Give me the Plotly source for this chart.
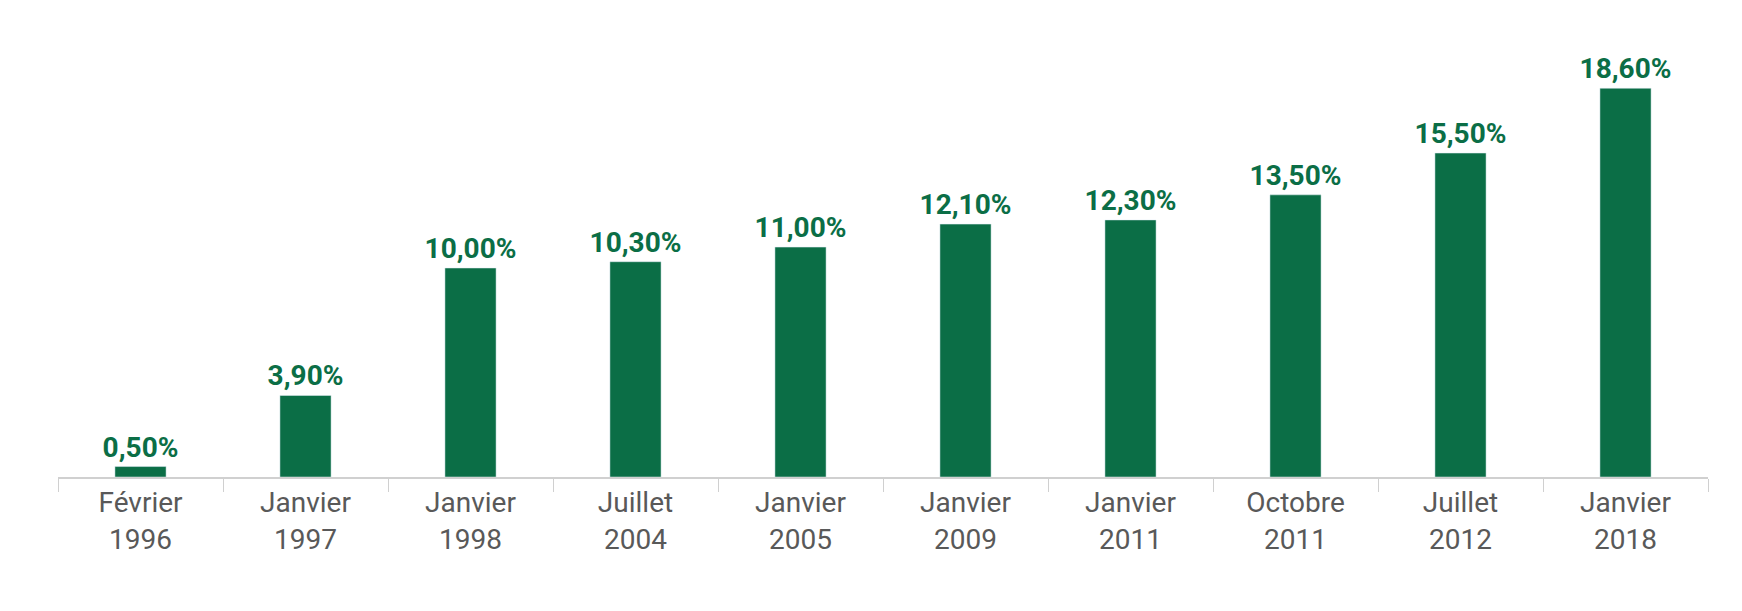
import plotly.graph_objects as go

dates = ["Février<br>1996", "Janvier<br>1997", "Janvier<br>1998", "Juillet<br>2004",
         "Janvier<br>2005", "Janvier<br>2009", "Janvier<br>2011", "Octobre<br>2011",
         "Juillet<br>2012", "Janvier<br>2018"]
rates = [0.5, 3.9, 10.0, 10.3, 11.0, 12.1, 12.3, 13.5, 15.5, 18.6]
labels = [f"{v:.2f}%".replace(".", ",") for v in rates]

green = "#0b6e46"

fig = go.Figure(go.Bar(
    x=dates, y=rates, text=labels, textposition="outside", constraintext="none",
    textfont=dict(family="Roboto", size=28, color=green, weight="bold"),
    marker_color=green, cliponaxis=False,
))

fig.update_layout(
    width=1742, height=611,
    margin=dict(l=50, r=42, t=51, b=142),
    plot_bgcolor="white", paper_bgcolor="white",
    bargap=0.69, showlegend=False,
)
fig.update_xaxes(
    showline=True, linecolor="#d0d0d0", linewidth=1.5,
    ticks="outside", tickson="boundaries", ticklen=13, tickcolor="#d0d0d0",
    tickfont=dict(family="Roboto", size=28, color="#595959"),
)
fig.update_yaxes(range=[0, 20], visible=False)

fig.write_html("out.html")
